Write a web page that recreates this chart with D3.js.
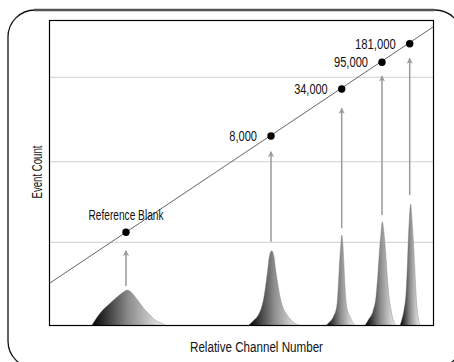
<!DOCTYPE html>
<html>
<head>
<meta charset="utf-8">
<script src="https://cdn.jsdelivr.net/npm/d3@7"></script>
<style>
    body { margin: 0; background: #fff; overflow: hidden; }
    svg text { font-family: "Liberation Sans", Arial, sans-serif; fill: #111; }
</style>
</head>
<body>
<div id="chart-area"></div>
<script>

// relative channel / event count units
let dotLabels = ["Reference Blank", "8,000", "34,000", "95,000", "181,000"];
let dotChannels = [76.5, 221.5, 292.2, 332.5, 360.2];
let dotLevels = [93.2, 189.5, 236.5, 263.2, 281.8];

let lineChannels = [0, 384];
let lineLevels = [42.2, 298.8];

let gridLevels = [83.2, 163.8, 248.2];

let arrowBottoms = [39.5, 83.8, 97.2, 110.5, 130.5];
let arrowTips = [74.8, 173.8, 217.2, 249.5, 267.2];

let peakBlank = [[42.2, 0], [46, 6], [50.5, 12.2], [60.5, 22.2], [68.8, 29.5], [75.5, 34.5], [77.8, 35.5], [82.2, 32.8],
    [85.5, 28.8], [90.5, 22.2], [95.5, 15.5], [100.5, 10.5], [105.5, 5.5], [112.2, 2.2], [116, 0]];
let peak8000 = [[198.8, 0], [203.8, 4.8], [208.8, 10.5], [212.2, 18.8], [214.5, 28.8], [216.5, 42.2], [218.2, 55.5],
    [219.8, 68.8], [222.2, 74.8], [224.5, 68.8], [226.2, 55.5], [228.2, 42.2], [230.5, 28.8], [233.8, 17.2],
    [238.8, 8.8], [245.5, 2.2], [250.5, 0]];
let peak34000 = [[276.5, 0], [278.8, 2.2], [283.8, 8.8], [287.2, 18.8], [288.8, 38.8], [289.8, 58.8], [291.2, 78.8],
    [292.2, 90.5], [293.5, 78.8], [294.5, 58.8], [295.5, 38.8], [297.2, 18.8], [300.5, 8.8], [305.5, 0]];
let peak95000 = [[315.5, 0], [318.8, 5.5], [323.8, 15.5], [326.5, 28.8], [328.2, 48.8], [329.8, 72.2], [331.5, 92.2],
    [332.8, 103.8], [334.5, 92.2], [336.2, 72.2], [337.8, 48.8], [339.5, 28.8], [341.5, 15.5], [343.8, 5.5], [346.5, 0]];
let peak181000 = [[350.5, 0], [352.2, 5.5], [354.5, 15.5], [356.5, 32.2], [357.8, 58.8], [358.8, 85.5], [359.8, 105.5],
    [361.2, 121.5], [362.5, 105.5], [363.8, 85.5], [365.2, 58.8], [366.5, 32.2], [367.8, 15.5], [369.2, 5.5], [370.5, 0]];


class ChannelChart {

    constructor(parentElement) {
        this.parentElement = parentElement;
    }

    initVis() {
        let vis = this;

        vis.margin = {top: 20.5, right: 20.5, bottom: 36.5, left: 49.5};
        vis.width = 384;
        vis.height = 305;

        vis.root = d3.select("#" + vis.parentElement).append("svg")
            .attr("width", 454)
            .attr("height", 362)
            .style("display", "block");

        // outer rounded frame
        vis.root.append("rect")
            .attr("x", 8).attr("y", 10)
            .attr("width", 454).attr("height", 358)
            .attr("rx", 27)
            .attr("fill", "none")
            .attr("stroke", "#111")
            .attr("stroke-width", 1.3);
        vis.root.append("line")
            .attr("x1", 34).attr("x2", 434)
            .attr("y1", 10).attr("y2", 10)
            .attr("stroke", "#555")
            .attr("stroke-width", 2.5);

        let defs = vis.root.append("defs");
        let grad = defs.append("linearGradient")
            .attr("id", "peakFill")
            .attr("x1", "0%").attr("x2", "100%")
            .attr("y1", "0%").attr("y2", "0%");
        grad.append("stop").attr("offset", "0%").attr("stop-color", "#000");
        grad.append("stop").attr("offset", "50%").attr("stop-color", "#8c8c8c");
        grad.append("stop").attr("offset", "100%").attr("stop-color", "#f2f2f2");

        defs.append("marker")
            .attr("id", "head")
            .attr("viewBox", "0 0 10 10")
            .attr("refX", 9).attr("refY", 5)
            .attr("markerWidth", 6).attr("markerHeight", 6)
            .attr("markerUnits", "userSpaceOnUse")
            .attr("orient", "auto")
            .append("path")
            .attr("d", "M0,0 L10,5 L0,10 L2.5,5 Z")
            .attr("fill", "#999");

        vis.svg = vis.root.append("g")
            .attr("transform", `translate(${vis.margin.left}, ${vis.margin.top})`);

        // Scales
        vis.x = d3.scaleLinear()
            .domain([0, 384])
            .range([0, vis.width]);
        vis.y = d3.scaleLinear()
            .domain([0, 305])
            .range([vis.height, 0]);

        vis.updateVis();
    }

    updateVis() {
        let vis = this;

        // Gridlines
        vis.svg.selectAll(".grid")
            .data(gridLevels)
            .enter().append("line")
            .attr("class", "grid")
            .attr("x1", 0).attr("x2", vis.width)
            .attr("y1", d => vis.y(d)).attr("y2", d => vis.y(d))
            .attr("stroke", "#cfcfcf")
            .attr("stroke-width", 1);

        // Peaks
        let area = d3.area()
            .x(d => vis.x(d[0]))
            .y0(vis.y(0))
            .y1(d => vis.y(d[1]))
            .curve(d3.curveMonotoneX);
        vis.svg.selectAll(".peak")
            .data([peakBlank, peak8000, peak34000, peak95000, peak181000])
            .enter().append("path")
            .attr("class", "peak")
            .attr("d", area)
            .attr("fill", "url(#peakFill)")
            .attr("stroke", "#777")
            .attr("stroke-width", 0.4);

        // Arrows
        vis.svg.selectAll(".arrow")
            .data(dotChannels)
            .enter().append("line")
            .attr("class", "arrow")
            .attr("x1", d => vis.x(d)).attr("x2", d => vis.x(d))
            .attr("y1", (d, i) => vis.y(arrowBottoms[i]))
            .attr("y2", (d, i) => vis.y(arrowTips[i]))
            .attr("stroke", "#9a9a9a")
            .attr("stroke-width", 1.5)
            .attr("marker-end", "url(#head)");

        // Calibration line
        vis.svg.append("path")
            .datum(lineChannels.map((c, i) => [c, lineLevels[i]]))
            .attr("fill", "none")
            .attr("stroke", "#666")
            .attr("stroke-width", 1)
            .attr("d", d3.line()
                .x(d => vis.x(d[0]))
                .y(d => vis.y(d[1])));

        // Dots
        vis.svg.selectAll(".dot")
            .data(dotChannels)
            .enter().append("circle")
            .attr("class", "dot")
            .attr("cx", d => vis.x(d))
            .attr("cy", (d, i) => vis.y(dotLevels[i]))
            .attr("r", 3.7)
            .attr("fill", "#000");

        // Dot labels (condensed face squeezed to the widths in the picture)
        let labelWidths = [75, 27.7, 33.5, 34, 40.7];
        vis.svg.selectAll(".dot-label")
            .data(dotLabels)
            .enter().append("text")
            .attr("class", "dot-label")
            .text(d => d)
            .attr("font-size", 14)
            .attr("textLength", (d, i) => labelWidths[i])
            .attr("lengthAdjust", "spacingAndGlyphs")
            .attr("text-anchor", (d, i) => i === 0 ? "middle" : "end")
            .attr("x", (d, i) => i === 0 ? vis.x(dotChannels[i]) : vis.x(dotChannels[i]) - 14)
            .attr("y", (d, i) => i === 0 ? vis.y(dotLevels[i]) - 12.5 : vis.y(dotLevels[i]) + 5);

        // Plot border
        vis.svg.append("rect")
            .attr("width", vis.width)
            .attr("height", vis.height)
            .attr("fill", "none")
            .attr("stroke", "#000")
            .attr("stroke-width", 1.2);

        // Axis labels
        vis.svg.append("text")
            .text("Relative Channel Number")
            .attr("font-size", 14)
            .attr("textLength", 133)
            .attr("lengthAdjust", "spacingAndGlyphs")
            .attr("text-anchor", "middle")
            .attr("x", 207)
            .attr("y", vis.height + 26.5);
        vis.svg.append("text")
            .text("Event Count")
            .attr("font-size", 14)
            .attr("textLength", 53)
            .attr("lengthAdjust", "spacingAndGlyphs")
            .attr("text-anchor", "middle")
            .attr("transform", `translate(-8, ${vis.height / 2 - 1}) rotate(-90)`);
    }
}

let chart = new ChannelChart("chart-area");
chart.initVis();

</script>
</body>
</html>
